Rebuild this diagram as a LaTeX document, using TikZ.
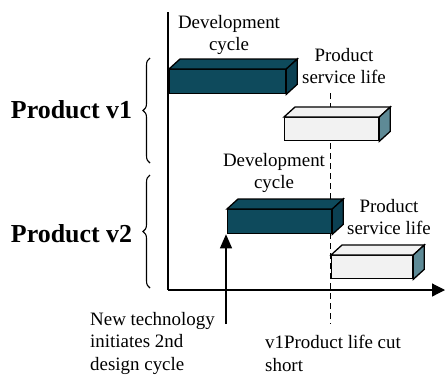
\documentclass[tikz,border=0pt]{standalone}
\usepackage{fontspec}
\setmainfont{Liberation Serif}
\usetikzlibrary{arrows.meta,decorations.pathreplacing}
\definecolor{devteal}{HTML}{0E4A5C}
\definecolor{devside}{HTML}{0B4052}
\definecolor{lifefront}{HTML}{F2F2F2}
\definecolor{lifeside}{HTML}{5E8A96}
\tikzset{
  lbl/.style={font=\fontsize{19}{22}\selectfont, inner sep=0pt, align=center},
  lbll/.style={font=\fontsize{19}{22.5}\selectfont, inner sep=0pt, align=left},
  biglbl/.style={font=\fontsize{26}{30}\selectfont\bfseries, inner sep=0pt},
  barface/.style={draw=black, line width=1.3bp, line join=miter, inner sep=0pt, anchor=north west},
  devbar/.style={barface, fill=devteal},
  lifebar/.style={barface, fill=lifefront},
  axisline/.style={line width=1.2bp},
  bracket/.style={decorate, decoration={brace, amplitude=7bp}, line width=1.1bp},
}
% draws the top and side faces of a box whose front face is node #1
\newcommand{\boxdepth}[3]{%
  \filldraw[fill=#2, line width=1.3bp, line join=miter]
    (#1.north west) -- ++(11,-10) -- ([shift={(11,-10)}]#1.north east) -- (#1.north east) -- cycle;
  \filldraw[fill=#3, line width=1.3bp, line join=miter]
    (#1.north east) -- ++(11,-10) -- ([shift={(11,-10)}]#1.south east) -- (#1.south east) -- cycle;
}
\begin{document}
\begin{tikzpicture}[x=1bp, y=-1bp]
\useasboundingbox (0,0) rectangle (445,376);

% axes
\coordinate (origin) at (168,290);
\coordinate (ytop) at (168,12);
\coordinate (xend) at (445,290);
\draw[axisline] (ytop) -- (origin);
\draw[axisline, -{Triangle[length=13bp, width=13bp]}] (origin) -- (xend);

% cut-off marker
\coordinate (cuttop) at (330,93);
\coordinate (cutbot) at (330,324);
\draw[line width=1bp, dash pattern=on 6bp off 4bp] (cuttop) -- (cutbot);

% product v1 boxes
\node[devbar, minimum width=116bp, minimum height=24bp] (dev1) at (169,69) {};
\boxdepth{dev1}{devteal}{devside}
\node[lifebar, minimum width=94bp, minimum height=23bp] (life1) at (284,117) {};
\boxdepth{life1}{lifefront}{lifeside}

% product v2 boxes
\node[devbar, minimum width=104bp, minimum height=24bp] (dev2) at (227,209) {};
\boxdepth{dev2}{devteal}{devside}
\node[lifebar, minimum width=81bp, minimum height=23bp] (life2) at (331,255) {};
\boxdepth{life2}{lifefront}{lifeside}

% new technology trigger
\coordinate (techbot) at (226,324);
\draw[axisline, -{Triangle[length=14bp, width=12bp]}] (techbot) -- (dev2.south west -| techbot);

% labels (base anchor = baseline of the last line)
\node[lbl, anchor=base] (devlbl1) at (229,50) {Development\\cycle};
\node[lbl, anchor=base] (lifelbl1) at (344,83) {Product\\service life};
\node[lbl, anchor=base] (devlbl2) at (274,188) {Development\\cycle};
\node[lbl, anchor=base] (lifelbl2) at (389,234) {Product\\service life};
\node[lbll, anchor=base west] (techlbl) at (90,370) {New technology\\initiates 2nd\\design cycle};
\node[lbll, anchor=base west] (cutlbl) at (265,371) {v1Product life cut\\short};

% product groups
\coordinate (b1lo) at (150,163);
\coordinate (b1hi) at (150,58);
\coordinate (b2lo) at (150,288);
\coordinate (b2hi) at (150,175);
\draw[bracket] (b1lo) -- (b1hi);
\draw[bracket] (b2lo) -- (b2hi);
\node[biglbl, anchor=base] (v1) at (71.5,118) {Product v1};
\node[biglbl, anchor=base] (v2) at (71.5,242) {Product v2};
\end{tikzpicture}
\end{document}
